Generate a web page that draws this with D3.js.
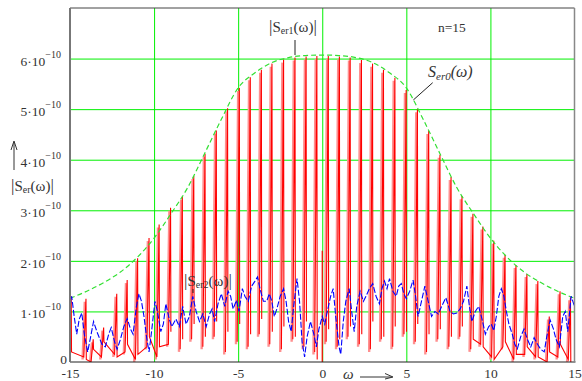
<!DOCTYPE html>
<html><head><meta charset="utf-8">
<script src="https://cdn.jsdelivr.net/npm/d3@7"></script>
<style>
html,body{margin:0;padding:0;background:#fff;}
svg{display:block;}
text{font-family:"Liberation Serif","Times New Roman",serif;fill:#333;}
</style></head>
<body><svg id="c" width="582" height="381"></svg>
<script>
// ---------- data (values in units of 1e-10) ----------
const omegaTicks = [-15, -10, -5, 0, 5, 10, 15];
const omegaTickLabels = ["-15", "-10", "-5", "0", "5", "10", "15"];
const yTicks = [0, 1, 2, 3, 4, 5, 6];
const yTickMant = ["0", "1", "2", "3", "4", "5", "6"];
const gridOmega = [-10, -5, 0, 5, 10];
const gridY = [1, 2, 3, 4, 5, 6];

// envelope |S_er0(w)|
const envW = [-15,-14,-13,-12,-11,-10,-9,-8,-7,-6,-5,-4,-3,-2,-1,0,1,2,3,4,5,6,7,8,9,10,11,12,13,14,15];
const envV = [1.26,1.40,1.57,1.78,2.07,2.45,2.93,3.45,4.12,4.80,5.42,5.72,5.92,6.02,6.06,6.07,6.06,6.02,5.92,5.72,5.42,4.80,4.12,3.45,2.93,2.45,2.07,1.78,1.57,1.40,1.26];

// |S_er1(w)| spikes: position, top, low value before rise, low value after fall
const redW = [-14.93,-14.05,-13.62,-13.0,-12.22,-11.6,-10.98,-10.3,-9.7,-9.02,-8.32,-7.64,-6.97,-6.3,-5.63,-4.93,-4.28,-3.62,-2.99,-2.3,-1.62,-0.96,-0.32,0.36,1.02,1.66,2.33,2.99,3.64,4.32,4.99,5.66,6.33,7.0,7.66,8.31,8.96,9.55,10.2,10.87,11.52,12.17,12.82,13.5,14.14,14.76];
const redPeak = [1.30,1.25,0.45,0.68,1.35,1.62,2.05,2.45,2.72,3.05,3.27,3.68,4.12,4.58,5.02,5.42,5.63,5.78,5.90,5.98,6.02,6.04,6.05,6.05,6.04,6.02,5.97,5.90,5.78,5.62,5.38,5.00,4.57,4.10,3.66,3.28,2.93,2.68,2.40,2.12,1.92,1.74,1.60,0.90,1.40,1.28];
const redLowBefore = [0.05,0.10,0.00,0.10,0.15,0.20,0.05,0.30,0.10,0.35,0.25,0.45,0.30,0.50,0.20,0.40,0.30,0.55,0.35,0.25,0.45,0.30,0.20,0.40,0.30,0.50,0.35,0.25,0.45,0.30,0.55,0.40,0.20,0.45,0.30,0.50,0.25,0.35,0.10,0.30,0.05,0.15,0.10,0.00,0.10,0.05];
const redLowAfter = [0.20,0.05,0.25,0.40,0.10,0.35,0.15,0.50,0.30,0.60,0.45,0.75,0.50,0.80,0.60,0.75,0.55,0.85,0.60,0.70,0.50,0.80,0.05,0.65,0.45,0.70,0.55,0.80,0.50,0.70,0.60,0.75,0.55,0.65,0.50,0.70,0.45,0.30,0.05,0.40,0.15,0.30,0.10,0.20,0.35,0.00];
// spikes joined to the next one along the bottom (outer parts of the band)
const redJoined = [1,1,1,1,1,1,1,1,1,0,0,0,0,0,0,0,0,0,0,0,0,0,0,0,0,0,0,0,0,0,0,0,0,0,0,0,1,1,1,1,1,1,1,1,1,1];
const notchW = [0];
const notchTop = [2.2];

// |S_er2(w)|
const blueW = [-15.0,-14.9,-14.75,-14.6,-14.45,-14.3,-14.15,-13.95,-13.8,-13.6,-13.4,-13.1,-12.9,-12.7,-12.55,-12.35,-12.2,-12.0,-11.8,-11.6,-11.4,-11.25,-11.05,-10.9,-10.75,-10.6,-10.45,-10.3,-10.15,-9.95,-9.8,-9.6,-9.45,-9.3,-9.1,-8.95,-8.7,-8.5,-8.3,-8.1,-7.9,-7.7,-7.5,-7.3,-7.1,-6.9,-6.7,-6.55,-6.4,-6.2,-6.0,-5.8,-5.6,-5.45,-5.3,-5.1,-4.95,-4.75,-4.6,-4.4,-4.2,-4.0,-3.85,-3.7,-3.5,-3.3,-3.15,-3.0,-2.85,-2.7,-2.5,-2.3,-2.15,-2.0,-1.85,-1.7,-1.5,-1.35,-1.2,-1.05,-0.9,-0.7,-0.5,-0.35,-0.2,0.0,0.15,0.3,0.5,0.65,0.8,1.0,1.1,1.25,1.4,1.6,1.75,1.9,2.05,2.25,2.45,2.6,2.8,3.0,3.2,3.4,3.55,3.7,3.85,4.0,4.2,4.4,4.55,4.7,4.85,5.0,5.2,5.4,5.55,5.7,5.9,6.1,6.3,6.5,6.7,6.9,7.1,7.35,7.6,7.8,8.0,8.2,8.4,8.6,8.75,8.9,9.1,9.3,9.5,9.7,9.9,10.05,10.2,10.35,10.5,10.65,10.8,10.95,11.1,11.3,11.45,11.6,11.8,12.0,12.2,12.4,12.6,12.8,13.0,13.2,13.35,13.55,13.75,13.9,14.1,14.3,14.45,14.6,14.8,15.0];
const blueV = [1.10,1.30,0.90,0.55,0.85,0.97,0.55,0.20,0.45,0.80,0.60,0.35,0.30,0.55,0.68,0.40,0.25,0.45,0.70,0.86,0.65,0.55,1.10,1.35,1.20,0.90,0.50,0.20,0.60,1.20,1.00,0.60,0.75,1.15,0.85,0.70,0.85,0.70,1.10,0.75,0.90,1.30,1.00,0.80,0.95,0.70,0.95,1.05,0.80,1.15,1.35,1.10,1.40,1.30,1.05,1.22,1.00,1.45,1.30,1.20,1.50,1.60,1.68,1.45,1.20,1.20,1.35,1.20,0.90,1.05,1.30,1.45,1.20,0.80,0.60,1.10,1.65,1.20,0.40,0.10,0.50,0.80,0.55,0.30,0.65,0.90,0.75,1.00,1.30,1.45,0.90,0.30,0.15,0.80,1.20,1.45,1.00,0.60,1.10,1.40,1.20,1.30,1.45,1.55,1.30,1.15,1.45,1.60,1.45,1.65,1.40,1.30,1.50,1.55,1.35,1.25,1.40,1.62,1.30,0.90,1.20,1.50,1.20,0.90,1.00,0.95,1.10,1.27,1.00,0.95,0.97,1.05,1.20,1.50,1.10,0.80,1.00,1.10,0.85,0.55,0.70,0.75,0.62,0.90,1.30,1.45,1.30,1.00,0.75,0.55,0.35,0.26,0.50,0.65,0.45,0.30,0.48,0.35,0.25,0.20,0.50,0.83,0.65,0.45,0.30,0.90,1.00,0.60,1.30,1.10];

// ---------- drawing ----------
const svg = d3.select("#c");
const L = 70, R = 574.5, T = 8, B = 362;
const x = d3.scaleLinear().domain([-15, 15]).range([L, R]);
const y = d3.scaleLinear().domain([0, 7]).range([B, T]);
const serif = '"Liberation Serif","Times New Roman",serif';

svg.append("defs").append("clipPath").attr("id", "clip")
  .append("rect").attr("x", L).attr("y", T).attr("width", R - L).attr("height", B - T);

// grid
const gx = svg.append("g").attr("transform", `translate(0,${B})`)
  .call(d3.axisBottom(x).tickValues(gridOmega).tickSize(-(B - T)).tickFormat(""));
gx.select(".domain").remove();
gx.selectAll("line").attr("stroke", "#00f000").attr("stroke-width", 1);
const gy = svg.append("g").attr("transform", `translate(${L},0)`)
  .call(d3.axisLeft(y).tickValues(gridY).tickSize(-(R - L)).tickFormat(""));
gy.select(".domain").remove();
gy.selectAll("line").attr("stroke", "#00f000").attr("stroke-width", 1);

const plot = svg.append("g").attr("clip-path", "url(#clip)");
const line = d3.line().defined(d => d !== null).x(d => x(d.w)).y(d => y(d.v));

// red trace
const RISE = 0.13, FALL = 0.02, SHADE = 0.07;
const redPts = [], pinkPts = [];
redW.forEach((w, i) => {
  redPts.push({w: w - RISE, v: redLowBefore[i]});
  redPts.push({w: w, v: redPeak[i]});
  redPts.push({w: w + FALL, v: redLowAfter[i]});
  if (!redJoined[i]) redPts.push(null);
  pinkPts.push({w: w - RISE - SHADE, v: redLowBefore[i] - 0.05});
  pinkPts.push({w: w - SHADE, v: redPeak[i] - 0.06});
  pinkPts.push(null);
});
plot.append("path").datum(pinkPts).attr("d", line)
  .attr("fill", "none").attr("stroke", "#ff8f8f").attr("stroke-width", 2.4);
plot.append("path").datum(redPts).attr("d", line)
  .attr("fill", "none").attr("stroke", "#ff0000").attr("stroke-width", 1.1);
notchW.forEach((w, i) => {
  plot.append("path").datum([{w: w, v: notchTop[i]}, {w: w, v: 0}]).attr("d", line)
    .attr("stroke", "#ff0000").attr("stroke-width", 1.2);
});

// envelope
plot.append("path").datum(envW.map((w, i) => ({w, v: envV[i]})))
  .attr("d", d3.line().x(d => x(d.w)).y(d => y(d.v)).curve(d3.curveMonotoneX))
  .attr("fill", "none").attr("stroke", "#33e033").attr("stroke-width", 1.2)
  .attr("stroke-dasharray", "5,3");

// blue trace
plot.append("path").datum(blueW.map((w, i) => ({w, v: blueV[i]})))
  .attr("d", line)
  .attr("fill", "none").attr("stroke", "#0000ff").attr("stroke-width", 1.1)
  .attr("stroke-dasharray", "6,2");

// frame
svg.append("line").attr("x1", L).attr("x2", R).attr("y1", T).attr("y2", T).attr("stroke", "#444").attr("stroke-width", 1);
svg.append("line").attr("x1", L).attr("x2", R + 1).attr("y1", B).attr("y2", B).attr("stroke", "#222").attr("stroke-width", 1.2);
svg.append("line").attr("x1", L).attr("x2", L).attr("y1", T).attr("y2", B).attr("stroke", "#777").attr("stroke-width", 2);
svg.append("line").attr("x1", R).attr("x2", R).attr("y1", T).attr("y2", B).attr("stroke", "#888").attr("stroke-width", 1.5);

// x axis labels
const ax = svg.append("g").attr("transform", `translate(0,${B})`)
  .call(d3.axisBottom(x).tickValues(omegaTicks).tickSize(0).tickPadding(6.5)
    .tickFormat((d, i) => omegaTickLabels[i]));
ax.select(".domain").remove();
ax.selectAll("text").attr("font-family", serif).attr("font-size", 13.5).attr("fill", "#333");

// y axis labels
const ay = svg.append("g").attr("transform", `translate(${L},0)`)
  .call(d3.axisLeft(y).tickValues(yTicks).tickSize(0).tickPadding(9).tickFormat((d, i) => yTickMant[i]));
ay.select(".domain").remove();
ay.selectAll("text").each(function(d, i) {
  const t = d3.select(this);
  t.text(null).attr("font-family", serif).attr("font-size", 13.5).attr("fill", "#333").attr("dy", d === 0 ? "0.12em" : "0.48em");
  if (d === 0) { t.text(yTickMant[i]); t.attr("x", -3); return; }
  t.append("tspan").text(yTickMant[i] + "\u00B710");
  t.append("tspan").attr("dy", -8).attr("font-size", 10).text("\u221210");
});

// axis titles
const tx = svg.append("g");
tx.append("text").attr("x", 343).attr("y", 379).attr("font-size", 15).attr("font-style", "italic").text("\u03C9");
tx.append("path").attr("d", "M360,377 L392,377 M385,373.5 L393,377 L385,379").attr("stroke", "#333").attr("fill", "none").attr("stroke-width", 1);

tx.append("path").attr("d", "M14,170 L14,142 M11,150 L14,141 L17,150").attr("stroke", "#333").attr("fill", "none").attr("stroke-width", 1);
const yl = tx.append("text").attr("x", 11).attr("y", 191).attr("font-size", 15);
yl.append("tspan").attr("font-size", 17).text("|");
yl.append("tspan").text("S");
yl.append("tspan").attr("font-size", 10).attr("dy", 2).text("er");
yl.append("tspan").attr("dy", -2).text("(\u03C9)");
yl.append("tspan").attr("font-size", 17).text("|");

// annotations
function absLabel(xp, yp, sub) {
  const t = svg.append("text").attr("x", xp).attr("y", yp).attr("font-size", 15);
  t.append("tspan").attr("font-size", 17).text("|");
  t.append("tspan").text("S");
  t.append("tspan").attr("font-size", 10).attr("dy", 2).text(sub);
  t.append("tspan").attr("dy", -2).text("(\u03C9)");
  t.append("tspan").attr("font-size", 17).text("|");
}
absLabel(269, 32, "er1");
svg.append("line").attr("x1", 295).attr("x2", 295).attr("y1", 40).attr("y2", 55).attr("stroke", "#222");
absLabel(184, 286, "er2");
svg.append("line").attr("x1", 193).attr("x2", 193).attr("y1", 289).attr("y2", 293).attr("stroke", "#222");

svg.append("text").attr("x", 438).attr("y", 32).attr("font-size", 13.5).text("n=15");
const s0 = svg.append("text").attr("x", 428).attr("y", 77).attr("font-size", 16).attr("font-style", "italic");
s0.append("tspan").text("S");
s0.append("tspan").attr("font-size", 11).attr("dy", 3).text("er0");
s0.append("tspan").attr("dy", -3).text("(\u03C9)");
svg.append("line").attr("x1", 432.7).attr("y1", 82.7).attr("x2", 413.3).attr("y2", 100).attr("stroke", "#222");
</script></body></html>
